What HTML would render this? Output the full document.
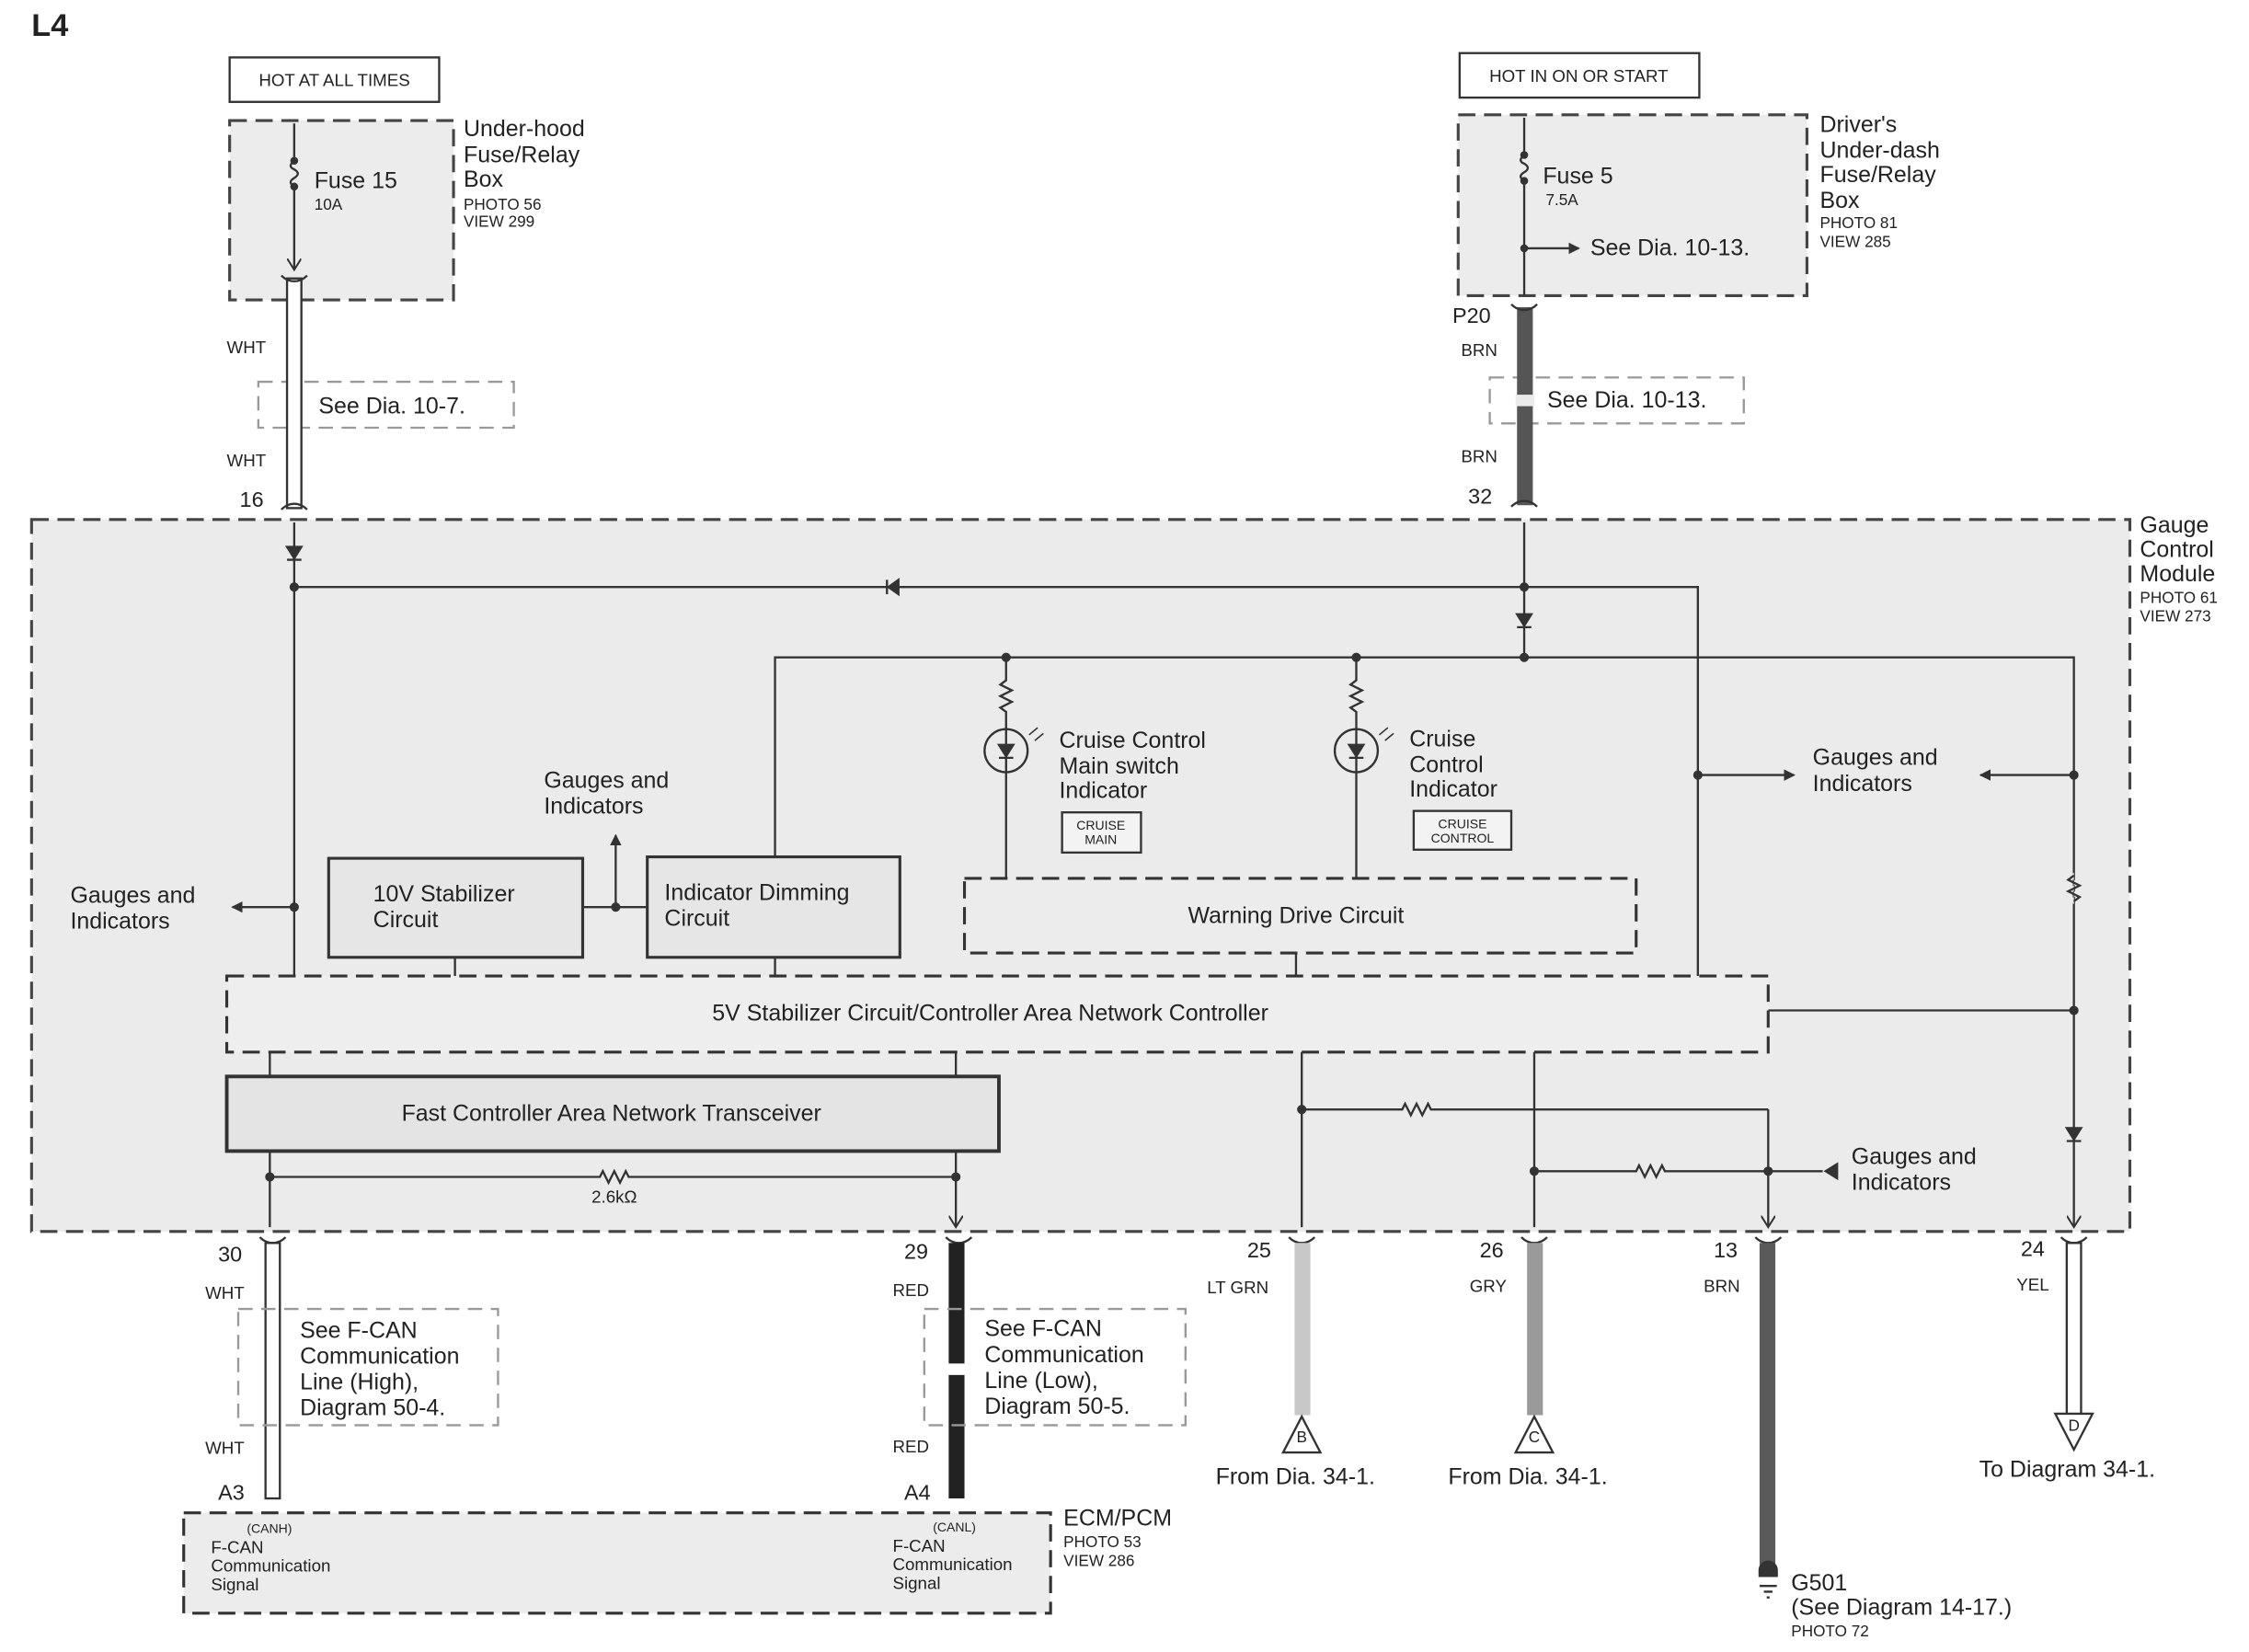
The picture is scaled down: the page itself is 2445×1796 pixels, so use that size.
<!DOCTYPE html>
<html><head><meta charset="utf-8"><style>
html,body{margin:0;padding:0;background:#fff;}
svg{display:block;}
text{font-family:"Liberation Sans",sans-serif;fill:#222;}
</style></head><body>
<svg width="2445" height="1796" viewBox="0 0 1567 1151" preserveAspectRatio="none" xmlns="http://www.w3.org/2000/svg">
<defs>
<marker id="ar" markerWidth="8" markerHeight="8" refX="7" refY="4" orient="auto" markerUnits="userSpaceOnUse"><path d="M0,0 L8,4 L0,8 z" fill="#333"/></marker>
<marker id="av" markerWidth="10" markerHeight="10" refX="8" refY="5" orient="auto" markerUnits="userSpaceOnUse"><path d="M0,0 L8,5 L0,10" fill="none" stroke="#333" stroke-width="1.3"/></marker>
</defs>
<g stroke="#333" stroke-width="1.5" fill="none">
<rect x="22" y="362" width="1462" height="496" fill="#ebebeb" stroke="#444" stroke-width="2" stroke-dasharray="12,6"/>
<rect x="160" y="84" width="156" height="125" fill="#ececec" stroke="#444" stroke-width="2" stroke-dasharray="12,6"/>
<rect x="1016" y="80" width="243" height="126" fill="#ececec" stroke="#444" stroke-width="2" stroke-dasharray="12,6"/>
<rect x="160" y="40" width="146" height="31" fill="#fff"/>
<rect x="1017" y="37" width="167" height="31" fill="#fff"/>
<rect x="180" y="266" width="178" height="32" stroke="#999" stroke-dasharray="10,6"/>
<rect x="1038" y="263" width="177" height="32" stroke="#999" stroke-dasharray="10,6"/>
<path d="M205,86 V112 M205,130 V188" marker-end="url(#av)"/>
<path d="M205,112 q-5,4 0,6 q5,3 0,6 q-5,3 0,6"/>
<circle cx="205" cy="112" r="2" fill="#333"/><circle cx="205" cy="130" r="2" fill="#333"/>
<rect x="200" y="194" width="10" height="160" fill="#fff"/>
<path d="M196,192 q4,4 9,4 q5,0 9,-4 M196,355 q4,-4 9,-4 q5,0 9,4"/>
<path d="M1062,82 V108 M1062,126 V206" />
<path d="M1062,108 q-5,4 0,6 q5,3 0,6 q-5,3 0,6"/>
<circle cx="1062" cy="108" r="2" fill="#333"/><circle cx="1062" cy="126" r="2" fill="#333"/>
<circle cx="1062" cy="173" r="2" fill="#333"/>
<path d="M1062,173 H1100" marker-end="url(#ar)"/>
<rect x="1057" y="214" width="11" height="138" fill="#555" stroke="none"/>
<path d="M1053,212 q4,4 9,4 q5,0 9,-4 M1053,353 q4,-4 9,-4 q5,0 9,4"/>
<rect x="1056" y="275" width="13" height="8" fill="#ebebeb" stroke="none"/>
<path d="M205,364 V683"/>
<path d="M200,381 h10 l-5,8 z M200,390 h10" fill="#333"/>
<circle cx="205" cy="409" r="2.5" fill="#333"/>
<path d="M205,409 H1183 V680"/>
<path d="M626,404 v10 l-7,-5 z M618,404 v10" fill="#333"/>
<path d="M1062,364 V458"/>
<path d="M1057,428 h10 l-5,8 z M1057,437 h10" fill="#333"/>
<circle cx="1062" cy="409" r="2.5" fill="#333"/><circle cx="1062" cy="458" r="2.5" fill="#333"/>
<path d="M540,598 V458 H1445 V855" marker-end="url(#av)"/>
<path d="M1445,608 l-4,3 l8,4 l-8,4 l8,4 l-8,4 l4,3" fill="#ebebeb" stroke="none"/>
<path d="M1445,610 l-4,3 l8,4 l-8,4 l8,4 l-4,3"/>
<path d="M1440,786 h10 l-5,8 z M1440,795 h10" fill="#333"/>
<circle cx="1445" cy="540" r="2.5" fill="#333"/><circle cx="1445" cy="704" r="2.5" fill="#333"/>
<circle cx="1183" cy="540" r="2.5" fill="#333"/>
<path d="M1183,540 H1250" marker-end="url(#ar)"/>
<path d="M1445,540 H1380" marker-end="url(#ar)"/>
<path d="M1232,704 H1445"/>
<circle cx="701" cy="458" r="2.5" fill="#333"/><circle cx="945" cy="458" r="2.5" fill="#333"/>
<path d="M701,458 V474 l-4,3 l8,4 l-8,4 l8,4 l-8,4 l4,3 V612"/>
<path d="M945,458 V474 l-4,3 l8,4 l-8,4 l8,4 l-8,4 l4,3 V612"/>
<circle cx="701" cy="523" r="15"/><circle cx="945" cy="523" r="15"/>
<path d="M696,519 h10 l-5,8 z M696,528 h10" fill="#333"/>
<path d="M940,519 h10 l-5,8 z M940,528 h10" fill="#333"/>
<path d="M717,512 l6,-5 M721,516 l6,-5 M961,512 l6,-5 M965,516 l6,-5" stroke-width="1"/>
<rect x="740" y="566" width="55" height="28" fill="#f3f3f3"/>
<rect x="985" y="565" width="68" height="27" fill="#f3f3f3"/>
<rect x="229" y="598" width="177" height="69" fill="#e6e6e6" stroke-width="2"/>
<rect x="451" y="597" width="176" height="70" fill="#e6e6e6" stroke-width="2"/>
<rect x="672" y="612" width="468" height="52" fill="#ececec" stroke-width="2" stroke-dasharray="12,6"/>
<path d="M205,632 H162" marker-end="url(#ar)"/>
<circle cx="205" cy="632" r="2.5" fill="#333"/>
<path d="M406,632 H451"/><circle cx="429" cy="632" r="2.5" fill="#333"/>
<path d="M429,632 V582" marker-end="url(#ar)"/>
<path d="M317,667 V683 M540,667 V683 M903,664 V683"/>
<rect x="158" y="680" width="1074" height="53" fill="#eeeeee" stroke-width="2" stroke-dasharray="12,6"/>
<rect x="158" y="750" width="538" height="52" fill="#e4e4e4" stroke-width="2.5"/>
<path d="M188,733 V750 M666,733 V750"/>
<path d="M188,802 V855 M666,802 V855" marker-end="url(#av)"/>
<path d="M188,820 H418 l2,-4 l4,8 l4,-8 l4,8 l4,-8 l2,4 H666"/>
<circle cx="188" cy="820" r="2.5" fill="#333"/><circle cx="666" cy="820" r="2.5" fill="#333"/>
<path d="M907,733 V855 M1069,733 V855 M1232,773 V855" marker-end="url(#av)"/>
<path d="M907,773 H977 l2,-4 l4,8 l4,-8 l4,8 l4,-8 l2,4 H1232"/>
<path d="M1069,816 H1140 l2,-4 l4,8 l4,-8 l4,8 l4,-8 l2,4 H1270"/>
<path d="M1280,811 v10 l-8,-5 z" fill="#333"/>
<circle cx="907" cy="773" r="2.5" fill="#333"/><circle cx="1069" cy="816" r="2.5" fill="#333"/><circle cx="1232" cy="816" r="2.5" fill="#333"/>
<path d="M181,862 q4,4 9,4 q5,0 9,-4 M659,862 q4,4 9,4 q5,0 9,-4 M898,862 q4,4 9,4 q5,0 9,-4 M1060,862 q4,4 9,4 q5,0 9,-4 M1223,862 q4,4 9,4 q5,0 9,-4 M1436,862 q4,4 9,4 q5,0 9,-4"/>
<rect x="185" y="866" width="10" height="178" fill="#fff"/>
<rect x="661" y="866" width="11" height="178" fill="#222" stroke="none"/>
<rect x="902" y="866" width="11" height="120" fill="#c8c8c8" stroke="none"/>
<rect x="1064" y="866" width="11" height="120" fill="#9a9a9a" stroke="none"/>
<rect x="1226" y="866" width="11" height="228" fill="#5a5a5a" stroke="none"/>
<rect x="1440" y="866" width="10" height="120" fill="#fff"/>
<rect x="166" y="912" width="181" height="81" stroke="#999" stroke-dasharray="10,6"/>
<rect x="644" y="912" width="182" height="81" stroke="#999" stroke-dasharray="10,6"/>
<rect x="659" y="950" width="15" height="8" fill="#fff" stroke="none"/>
<path d="M907,987 L920,1012 L894,1012 z M1069,987 L1082,1012 L1056,1012 z M1432,985 L1458,985 L1445,1010 z" fill="#fff"/>
<path d="M1226,1094 a6,6 0 0 1 12,0 v4 h-12 z" fill="#333"/>
<path d="M1226,1105 h12 M1229,1109 h6 M1231,1113 h2"/>
<rect x="128" y="1054" width="604" height="70" fill="#ececec" stroke-width="2" stroke-dasharray="12,6"/>
</g>
<text x="22" y="25" font-size="22" font-weight="bold">L4</text>
<text x="233" y="60" font-size="12" text-anchor="middle">HOT AT ALL TIMES</text>
<text x="1100" y="57" font-size="12" text-anchor="middle">HOT IN ON OR START</text>
<text x="219" y="131" font-size="16">Fuse 15</text><text x="219" y="146" font-size="11">10A</text>
<g font-size="16"><text x="323" y="95">Under-hood</text><text x="323" y="113">Fuse/Relay</text><text x="323" y="130">Box</text></g>
<g font-size="11"><text x="323" y="146">PHOTO 56</text><text x="323" y="158">VIEW 299</text></g>
<g font-size="12"><text x="158" y="246">WHT</text><text x="158" y="325">WHT</text><text x="1018" y="248">BRN</text><text x="1018" y="322">BRN</text></g>
<text x="167" y="353" font-size="15">16</text><text x="1023" y="351" font-size="15">32</text>
<text x="1012" y="225" font-size="15">P20</text>
<text x="222" y="288" font-size="16">See Dia. 10-7.</text>
<text x="1078" y="284" font-size="16">See Dia. 10-13.</text>
<text x="1075" y="128" font-size="16">Fuse 5</text><text x="1077" y="143" font-size="11">7.5A</text>
<text x="1108" y="178" font-size="16">See Dia. 10-13.</text>
<g font-size="16"><text x="1268" y="92">Driver's</text><text x="1268" y="110">Under-dash</text><text x="1268" y="127">Fuse/Relay</text><text x="1268" y="145">Box</text></g>
<g font-size="11"><text x="1268" y="159">PHOTO 81</text><text x="1268" y="172">VIEW 285</text></g>
<g font-size="16"><text x="1491" y="371">Gauge</text><text x="1491" y="388">Control</text><text x="1491" y="405">Module</text></g>
<g font-size="11"><text x="1491" y="420">PHOTO 61</text><text x="1491" y="433">VIEW 273</text></g>
<g font-size="16">
<text x="738" y="521">Cruise Control</text><text x="738" y="539">Main switch</text><text x="738" y="556">Indicator</text>
<text x="982" y="520">Cruise</text><text x="982" y="538">Control</text><text x="982" y="555">Indicator</text>
<text x="1263" y="533">Gauges and</text><text x="1263" y="551">Indicators</text>
<text x="379" y="549">Gauges and</text><text x="379" y="567">Indicators</text>
<text x="49" y="629">Gauges and</text><text x="49" y="647">Indicators</text>
<text x="260" y="628">10V Stabilizer</text><text x="260" y="646">Circuit</text>
<text x="463" y="627">Indicator Dimming</text><text x="463" y="645">Circuit</text>
<text x="903" y="643" text-anchor="middle">Warning Drive Circuit</text>
<text x="690" y="711" text-anchor="middle">5V Stabilizer Circuit/Controller Area Network Controller</text>
<text x="426" y="781" text-anchor="middle">Fast Controller Area Network Transceiver</text>
<text x="1290" y="811">Gauges and</text><text x="1290" y="829">Indicators</text>
</g>
<g font-size="9" text-anchor="middle"><text x="767" y="578">CRUISE</text><text x="767" y="588">MAIN</text><text x="1019" y="577">CRUISE</text><text x="1019" y="587">CONTROL</text></g>
<text x="428" y="838" font-size="12" text-anchor="middle">2.6kΩ</text>
<g font-size="15"><text x="152" y="879">30</text><text x="630" y="877">29</text><text x="869" y="876">25</text><text x="1031" y="876">26</text><text x="1194" y="876">13</text><text x="1408" y="875">24</text><text x="152" y="1045">A3</text><text x="630" y="1045">A4</text></g>
<g font-size="12"><text x="143" y="905">WHT</text><text x="143" y="1013">WHT</text><text x="622" y="903">RED</text><text x="622" y="1012">RED</text><text x="841" y="901">LT GRN</text><text x="1024" y="900">GRY</text><text x="1187" y="900">BRN</text><text x="1405" y="899">YEL</text></g>
<g font-size="16"><text x="209" y="932">See F-CAN</text><text x="209" y="950">Communication</text><text x="209" y="968">Line (High),</text><text x="209" y="986">Diagram 50-4.</text>
<text x="686" y="931">See F-CAN</text><text x="686" y="949">Communication</text><text x="686" y="967">Line (Low),</text><text x="686" y="985">Diagram 50-5.</text></g>
<g font-size="11" text-anchor="middle"><text x="907" y="1005">B</text><text x="1069" y="1005">C</text><text x="1445" y="997">D</text></g>
<g font-size="16"><text x="847" y="1034">From Dia. 34-1.</text><text x="1009" y="1034">From Dia. 34-1.</text><text x="1379" y="1029">To Diagram 34-1.</text>
<text x="1248" y="1108">G501</text><text x="1248" y="1125">(See Diagram 14-17.)</text><text x="741" y="1063">ECM/PCM</text></g>
<text x="1248" y="1140" font-size="11">PHOTO 72</text>
<g font-size="11"><text x="741" y="1078">PHOTO 53</text><text x="741" y="1091">VIEW 286</text></g>
<g font-size="9"><text x="172" y="1068">(CANH)</text><text x="650" y="1067">(CANL)</text></g>
<g font-size="12"><text x="147" y="1082">F-CAN</text><text x="147" y="1095">Communication</text><text x="147" y="1108">Signal</text>
<text x="622" y="1081">F-CAN</text><text x="622" y="1094">Communication</text><text x="622" y="1107">Signal</text></g>
</svg>
</body></html>
